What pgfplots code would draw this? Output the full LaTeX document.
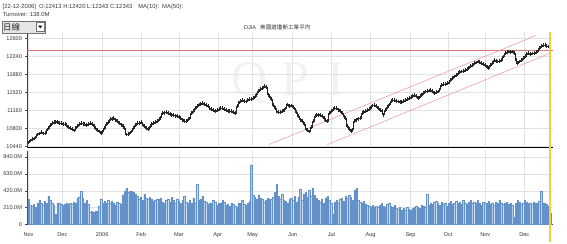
\documentclass[border=0pt]{standalone}
\usepackage{pgfplots}
\usepackage{pgfplotstable}
\pgfplotsset{compat=1.18}
\usepackage{fontspec}
\setmainfont{Liberation Sans}
\newfontfamily\cjk{Noto Sans CJK TC}
\newfontfamily\wmfont{Liberation Serif}
\definecolor{gridc}{RGB}{226,226,226}
\definecolor{redl}{RGB}{222,120,120}
\definecolor{chan}{RGB}{232,140,140}
\definecolor{volfill}{RGB}{176,206,238}
\definecolor{voldraw}{RGB}{100,145,200}
\definecolor{cursor}{RGB}{242,208,60}
\definecolor{txt}{RGB}{55,55,55}

\pgfplotstableread{
i c
0 10520
1 10560
2 10585
3 10600
4 10640
5 10680
6 10700
7 10725
8 10700
9 10715
10 10760
11 10800
12 10860
13 10900
14 10930
15 10920
16 10935
17 10910
18 10905
19 10890
20 10880
21 10860
22 10830
23 10800
24 10780
25 10760
26 10800
27 10845
28 10880
29 10910
30 10895
31 10885
32 10870
33 10890
34 10910
35 10880
36 10850
37 10800
38 10775
39 10740
40 10710
41 10760
42 10810
43 10880
44 10920
45 10980
46 10995
47 11010
48 10975
49 10940
50 10910
51 10875
52 10840
53 10800
54 10680
55 10690
56 10720
57 10760
58 10810
59 10860
60 10900
61 10910
62 10920
63 10880
64 10840
65 10800
66 10790
67 10850
68 10880
69 10905
70 10920
71 10940
72 10990
73 11040
74 11105
75 11115
76 11120
77 11100
78 11090
79 11075
80 11060
81 11055
82 11040
83 11025
84 11000
85 10975
86 10950
87 10940
88 10990
89 11030
90 11100
91 11150
92 11200
93 11240
94 11275
95 11290
96 11305
97 11290
98 11270
99 11245
100 11210
101 11180
102 11160
103 11140
104 11160
105 11185
106 11200
107 11205
108 11190
109 11170
110 11150
111 11140
112 11145
113 11130
114 11110
115 11250
116 11305
117 11340
118 11360
119 11345
120 11335
121 11370
122 11380
123 11390
124 11410
125 11440
126 11500
127 11540
128 11580
129 11610
130 11640
131 11625
132 11500
133 11440
134 11380
135 11260
136 11200
137 11145
138 11130
139 11120
140 11150
141 11175
142 11230
143 11275
144 11245
145 11255
146 11220
147 11175
148 11130
149 11040
150 10975
151 10940
152 10880
153 10810
154 10770
155 10740
156 10820
157 10940
158 11040
159 11060
160 11075
161 11060
162 11040
163 11000
164 10970
165 10940
166 11110
167 11150
168 11190
169 11205
170 11200
171 11175
172 11140
173 11110
174 11060
175 11010
176 10845
177 10780
178 10745
179 10810
180 10945
181 10975
182 10995
183 11010
184 11100
185 11120
186 11140
187 11165
188 11180
189 11235
190 11255
191 11270
192 11245
193 11210
194 11165
195 11140
196 11075
197 11170
198 11230
199 11275
200 11340
201 11360
202 11372
203 11350
204 11338
205 11330
206 11326
207 11350
208 11372
209 11390
210 11406
211 11430
212 11445
213 11470
214 11440
215 11406
216 11440
217 11472
218 11510
219 11537
220 11550
221 11555
222 11570
223 11540
224 11505
225 11520
226 11537
227 11600
228 11670
229 11680
230 11690
231 11705
232 11716
233 11765
234 11800
235 11836
236 11870
237 11900
238 11920
239 11935
240 11950
241 11969
242 11985
243 12003
244 12040
245 12070
246 12100
247 12115
248 12135
249 12120
250 12100
251 12080
252 12069
253 12023
254 12003
255 12060
256 12102
257 12168
258 12150
259 12135
260 12150
261 12168
262 12234
263 12301
264 12320
265 12333
266 12325
267 12333
268 12301
269 12170
270 12102
271 12135
272 12168
273 12200
274 12248
275 12280
276 12301
277 12287
278 12295
279 12301
280 12320
281 12333
282 12401
283 12447
284 12460
285 12467
286 12450
287 12433
288 12343
}\price

\pgfplotstableread{
i v
0 310
1 240
2 225
3 250
4 215
5 270
6 300
7 265
8 245
9 290
10 260
11 355
12 300
13 270
14 240
15 125
16 265
17 260
18 255
19 240
20 250
21 270
22 255
23 260
24 250
25 280
26 270
27 330
28 340
29 415
30 330
31 260
32 300
33 250
34 150
35 165
36 150
37 170
38 160
39 230
40 320
41 270
42 290
43 270
44 300
45 260
46 285
47 270
48 240
49 280
50 260
51 255
52 370
53 420
54 456
55 400
56 420
57 410
58 400
59 380
60 350
61 320
62 340
63 300
64 380
65 330
66 310
67 340
68 310
69 290
70 300
71 320
72 310
73 330
74 280
75 260
76 300
77 310
78 280
79 340
80 300
81 260
82 320
83 290
84 260
85 300
86 350
87 280
88 260
89 300
90 270
91 330
92 270
93 498
94 300
95 310
96 350
97 290
98 280
99 250
100 270
101 260
102 300
103 280
104 240
105 260
106 270
107 300
108 280
109 240
110 250
111 230
112 260
113 250
114 230
115 220
116 270
117 260
118 300
119 250
120 240
121 260
122 290
123 745
124 360
125 340
126 320
127 360
128 330
129 310
130 280
131 300
132 330
133 320
134 310
135 340
136 400
137 498
138 350
139 320
140 380
141 300
142 290
143 260
144 310
145 330
146 300
147 350
148 280
149 340
150 436
151 300
152 380
153 400
154 340
155 430
156 350
157 456
158 360
159 330
160 300
161 280
162 320
163 260
164 330
165 350
166 300
167 270
168 124
169 280
170 300
171 270
172 310
173 330
174 290
175 350
176 330
177 360
178 340
179 300
180 430
181 450
182 300
183 280
184 270
185 290
186 250
187 240
188 230
189 220
190 240
191 210
192 230
193 220
194 240
195 260
196 230
197 220
198 250
199 270
200 230
201 220
202 240
203 200
204 190
205 220
206 180
207 200
208 175
209 210
210 190
211 180
212 200
213 210
214 230
215 220
216 200
217 240
218 230
219 220
220 375
221 240
222 260
223 250
224 280
225 290
226 260
227 240
228 280
229 250
230 270
231 230
232 260
233 290
234 250
235 270
236 290
237 260
238 280
239 250
240 300
241 270
242 250
243 280
244 300
245 260
246 280
247 270
248 300
249 260
250 240
251 280
252 270
253 260
254 290
255 250
256 270
257 240
258 280
259 260
260 300
261 270
262 250
263 260
264 280
265 250
266 270
267 240
268 90
269 260
270 300
271 280
272 250
273 270
274 300
275 280
276 260
277 270
278 250
279 280
280 260
281 270
282 290
283 415
284 270
285 260
286 250
287 230
288 138
}\vol

\pgfplotsset{
  chartbase/.style={
    scale only axis, anchor=south west,
    width=527pt,
    xmin=-0.55, xmax=289.6,
    axis lines*=left,
    axis line style={black!75, line width=0.5pt},
    grid=major,
    major grid style={gridc, line width=0.4pt},
    tick label style={font=\fontsize{5.6}{6.5}\selectfont, text=txt},
    tick align=outside,
    major tick length=2pt,
    ytick style={black!70, line width=0.4pt},
    xtick style={draw=none},
    xtick={0,18.7,40.7,62.2,83,104.5,123.7,145.8,167.2,188.9,210.9,231.7,252.2,273.7},
    clip=false,
  }
}

\begin{document}
\begin{tikzpicture}[x=1pt,y=1pt]
\path (0,0) rectangle (567,243);

% watermark
\node[text=black!5, font=\wmfont\fontsize{50}{50}\selectfont, inner sep=0] at (287,160) {Q\hspace{14pt}P\hspace{18pt}I};

% header
\node[anchor=base west, inner sep=0, font=\fontsize{5.9}{7}\selectfont, text=txt] at (1,234.5)
  {[22-12-2006]\hspace{3pt}O:12413 H:12420 L:12343 C:12343\hspace{6pt}MA(10):\hspace{3pt}MA(50):};
\node[anchor=base west, inner sep=0, font=\fontsize{5.9}{7}\selectfont, text=txt] at (1,226.5)
  {Turnover: 138.0M};

% price panel
\begin{axis}[chartbase, at={(26pt,95pt)}, height=116pt,
  ymin=10417, ymax=12725,
  ytick={10440,10800,11160,11520,11880,12240,12600},
  yticklabels={10440,10800,11160,11520,11880,12240,12600},
  xticklabels={},
  x axis line style={black, line width=0.7pt},
]
\addplot[redl, line width=0.6pt] coordinates {(-0.55,12360) (289.6,12360)};
\addplot[chan, line width=0.45pt] coordinates {(132.7,10477) (280.1,12652)};
\addplot[chan, line width=0.45pt] coordinates {(165,10477) (288,12301)};
\addplot[black!85, line width=0.3pt, const plot mark mid,
  error bars/.cd, y dir=both, y fixed=38, error mark=none,
  error bar style={black!85, line width=0.3pt}] table[x=i,y=c] {\price};
\end{axis}

% volume panel
\begin{axis}[chartbase, at={(26pt,18pt)}, height=74pt,
  ymin=0, ymax=920,
  ytick={0,210,420,630,840},
  yticklabels={0,210.0M,420.0M,630.0M,840.0M},
  xticklabels={Nov,Dec,2006,Feb,Mar,Apr,May,Jun,Jul,Aug,Sep,Oct,Nov,Dec},
  xticklabel style={yshift=-2.5pt},
]
\addplot[ybar, bar width=0.75, fill=volfill, draw=voldraw, line width=0.2pt] table[x=i,y=v] {\vol};
\end{axis}

% cursor line
\draw[cursor, line width=1.8pt] (550,0) -- (550,211);

% dropdown
\draw[fill=black!10, draw=black!55, line width=0.4pt] (0.2,210) rectangle (44,222);
\node[anchor=base west, inner sep=0, font=\cjk\fontsize{8.5}{9}\selectfont, text=black!85] at (1.5,212) {日線};
\draw[fill=white, draw=black!55, line width=0.4pt] (34.5,211.5) rectangle (43,220.5);
\fill[black] (36.8,217.3) -- (40.8,217.3) -- (38.8,214.6) -- cycle;

% title
\node[anchor=base west, inner sep=0, font=\fontsize{5.6}{6.5}\selectfont, text=txt] at (243,213)
  {DJIA\hspace{4pt}{\cjk 美國道瓊斯工業平均}};
\end{tikzpicture}
\end{document}
